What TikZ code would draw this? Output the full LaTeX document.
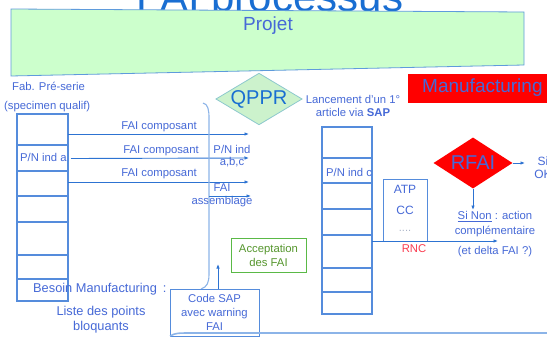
\documentclass[tikz,border=0pt]{standalone}
\usepackage{fontspec}
\setmainfont{Liberation Sans}
\usetikzlibrary{shapes.geometric,arrows.meta}

\definecolor{titleblue}{RGB}{25,110,210}
\definecolor{txtblue}{RGB}{70,105,215}
\definecolor{lineblue}{RGB}{45,115,210}
\definecolor{boxblue}{RGB}{85,140,220}
\definecolor{paleblue}{RGB}{140,180,232}
\definecolor{projfill}{RGB}{204,255,204}
\definecolor{projdraw}{RGB}{95,155,220}
\definecolor{qfill}{RGB}{204,242,204}
\definecolor{qdraw}{RGB}{140,200,205}
\definecolor{accgreen}{RGB}{90,185,70}
\definecolor{acctext}{RGB}{85,150,45}
\definecolor{rnctext}{RGB}{250,60,80}
\definecolor{dotgray}{RGB}{170,180,200}

\newcommand\fsz[2]{\fontsize{#1}{#2}\selectfont}

\begin{document}
\begin{tikzpicture}[x=1pt,y=-1pt,
  lbl/.style={text=txtblue,font=\fsz{11.3}{13.5},inner sep=0,align=center},
  big/.style={text=txtblue,font=\fsz{12.8}{15},inner sep=0,align=center},
  cell/.style={draw=boxblue,line width=1.1pt,inner sep=0,outer sep=0,anchor=north west},
  cellL/.style={cell,minimum width=51pt},
  cellM/.style={cell,minimum width=50pt},
  arr/.style={draw=lineblue,line width=0.9pt,-{Latex[length=4.5pt,width=3.6pt]}},
  boxed/.style={draw=boxblue,line width=1pt,inner sep=0,outer sep=0,align=center}]

\useasboundingbox (0,0) rectangle (547,337);
\clip (0,0) rectangle (547,337);
\fill[white] (0,0) rectangle (547,337);

% title, partly hidden behind the project banner
\node[anchor=base,text=titleblue,font=\fsz{42}{46},inner sep=0] (title) at (270,12) {FAI processus};

% project banner
\filldraw[fill=projfill,draw=projdraw,line width=0.8pt]
  (11,9) -- (524,12) -- (524,65) -- (11,76) -- cycle;
\node[text=txtblue,font=\fsz{19}{22},inner sep=0] (projet) at (268,26) {Projet};

% manufacturing banner
\fill[red] (408,74) rectangle (550,103);
\node[anchor=west,text=txtblue,font=\fsz{19}{22},inner sep=0] (mfg) at (422,88) {Manufacturing};

% QPPR
\node[diamond,aspect=1.67,minimum width=80pt,minimum height=48pt,inner sep=0,
      fill=qfill,draw=qdraw,line width=0.8pt,text=titleblue,font=\fsz{20}{22}] (qppr) at (259,99) {QPPR};
\node[lbl] (lanc) at (353,106) {Lancement d’un 1°\\article via \textbf{SAP}};

% pre-series column
\node[lbl,anchor=west] (fab) at (12,86) {Fab. Pré-serie};
\node[lbl,anchor=west] (spec) at (4,107) {(specimen qualif)};
\node[cellL,minimum height=31pt] (L1) at (17,114) {};
\node[cellL,minimum height=26pt] (L2) at (17,145) {};
\node[cellL,minimum height=25pt] (L3) at (17,171) {};
\node[cellL,minimum height=26pt] (L4) at (17,196) {};
\node[cellL,minimum height=33pt] (L5) at (17,222) {};
\node[cellL,minimum height=24pt] (L6) at (17,255) {};
\node[cellL,minimum height=22pt] (L7) at (17,279) {};
\node[lbl,anchor=west] (pna) at (20,157) {P/N ind a};
\node[big,anchor=west] (besoin) at (33,289) {Besoin Manufacturing\hspace{6pt}:};
\node[big] (liste) at (101,320) {Liste des points\\bloquants};

% component FAI arrows
\coordinate (e1) at (249,134);
\coordinate (e2) at (249,158);
\coordinate (e3) at (249,182);
\coordinate (e4) at (251,196);
\draw[arr] ([yshift=11pt]L1.south east) -- (e1);
\draw[arr] ([xshift=3pt,yshift=-0.5pt]L2.east) -- (e2);
\draw[arr] ([yshift=1.5pt]L3.east) -- (e3);
\node[lbl] (fc1) at (159,127) {FAI composant};
\node[lbl] (fc2) at (161,151) {FAI composant};
\node[lbl] (fc3) at (159,174) {FAI composant};
\node[lbl,font=\fsz{11.3}{12}] (pnabc) at (232,156) {P/N ind\\a,b,c};
\node[lbl,font=\fsz{11.3}{13}] (fass) at (222,195) {FAI\\assemblage};

% grouping bracket
\draw[paleblue,line width=1.1pt]
  (203,103) .. controls (208,104) and (209,110) .. (209,118) -- (209,274)
  .. controls (209,283) and (207,287) .. (201,289);
\coordinate (bj) at (209,196);
\draw[arr] (bj) -- (e4);

% SAP code with warning
\node[boxed,minimum width=89pt,minimum height=47pt,text=txtblue,font=\fsz{11.3}{14}] (csap) at (214.5,312.5) {Code SAP\\avec warning\\FAI};
\coordinate (up) at (218,264);
\draw[arr] ([xshift=3.5pt]csap.north) -- (up);
\draw[paleblue,line width=1.6pt] (csap.south west) .. controls (176,333) .. (195,333) -- (550,333);

% acceptance
\node[draw=accgreen,line width=0.9pt,minimum width=75pt,minimum height=34pt,inner sep=0,
      text=acctext,font=\fsz{11.3}{14},align=center] (acc) at (268.5,255) {Acceptation\\des FAI};

% first article column
\node[cellM,minimum height=31pt] (M1) at (322,127) {};
\node[cellM,minimum height=25pt] (M2) at (322,158) {};
\node[cellM,minimum height=26pt] (M3) at (322,183) {};
\node[cellM,minimum height=26pt] (M4) at (322,209) {};
\node[cellM,minimum height=33pt] (M5) at (322,235) {};
\node[cellM,minimum height=24pt] (M6) at (322,268) {};
\node[cellM,minimum height=22pt] (M7) at (322,292) {};
\node[lbl,anchor=west] (pnc) at (326,172) {P/N ind c};

% ATP / CC box
\node[boxed,minimum width=44pt,minimum height=62pt] (atp) at (405,210) {};
\node[lbl,font=\fsz{12}{14}] (atpt) at (405,189) {ATP};
\node[lbl,font=\fsz{12}{14}] (cct) at (405,210) {CC};
\node[lbl,text=dotgray,font=\fsz{11}{14}] (dots) at (405,231) {....};
\coordinate (rncend) at (498,241);
\draw[arr] ([yshift=-6pt]M5.north east) -- (rncend);
\node[lbl,text=rnctext] (rnc) at (414,249) {RNC};

% RFAI decision
\node[diamond,aspect=1.55,minimum width=79pt,minimum height=51pt,inner sep=0,
      fill=red,text=txtblue,font=\fsz{20}{22}] (rfai) at (473,163) {RFAI};
\coordinate (okend) at (525,163);
\coordinate (noend) at (473,210);
\draw[arr] (rfai.east) -- (okend);
\draw[arr] (rfai.south) -- (noend);
\node[lbl,font=\fsz{12}{13}] (siok) at (543,168) {Si\\OK};
\node[lbl,font=\fsz{11.3}{15}] (sinon) at (495,234) {\underline{Si Non} : action\\complémentaire\\[5pt](et delta FAI ?)};

\end{tikzpicture}
\end{document}
